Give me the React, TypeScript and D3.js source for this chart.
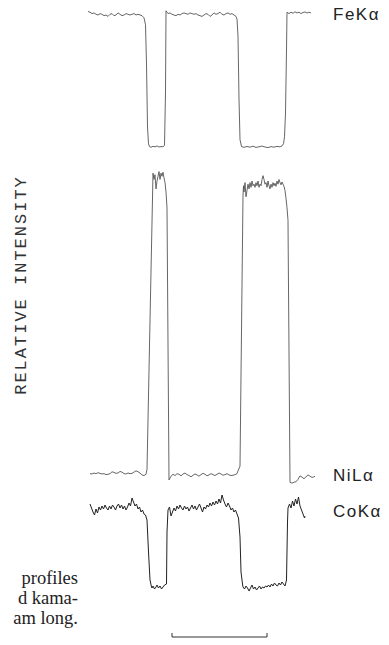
import React, { useEffect, useRef } from "react";
import * as d3 from "d3";

type Pt = [number, number];

// scan position (arbitrary units) vs relative intensity (0-100)
const feKa: Pt[] = [
  [0, 97.5], [2, 97], [4, 96], [6, 96.5], [8, 95.5], [10, 95], [12, 96], [14, 95.5], [16, 94.5], [18, 95],
  [20, 94], [22, 95.5], [24, 96], [26, 94.5], [28, 95], [30, 96.5], [32, 95.5], [34, 94.5], [36, 95], [38, 96],
  [40, 95.5], [42, 95], [44, 95.5], [46, 96], [48, 95], [50, 95.5], [52, 95], [54, 94.5], [56, 93], [57.5, 88],
  [58.5, 60], [59.5, 15], [60.5, 3], [61.5, 1],
  [63, 0.5], [65, 1.2], [67, 0.8], [69, 1.5], [71, 0.7], [73, 1], [75, 0.9], [76.5, 1.8], [77.5, 40], [78, 98],
  [80, 96], [82, 96.5], [84, 95.5], [86, 95], [88, 94.5], [90, 95.5], [92, 95], [94, 96], [96, 96.5], [98, 96],
  [100, 95.5], [102, 96.5], [104, 96], [106, 95.5], [108, 96], [110, 95], [112, 94.5], [114, 94], [116, 95], [118, 96],
  [120, 95.5], [122, 94], [124, 95], [126, 96.5], [128, 95.5], [130, 96], [132, 97], [134, 95.5], [136, 95], [138, 96],
  [140, 96.5], [142, 95.5], [144, 96], [146, 95], [148, 94], [149, 92], [150, 80], [151, 35], [152, 6], [153.5, 1],
  [156, 0.5], [159, 1.1], [162, 0.6], [165, 1.3], [168, 0.4], [171, 0.9], [174, 1.4], [177, 0.7], [180, 0.3], [183, 1],
  [186, 0.6], [189, 1.2], [192, 0.8], [194, 1.5], [195.5, 3], [196.5, 8], [197.5, 25], [198.5, 70], [199, 97],
  [201, 96], [203, 97], [205, 96.2], [207, 97.3], [209, 96.5], [211, 97], [213, 96], [215, 96.8], [217, 97.2], [219, 96.4],
  [221, 97], [223, 96.5],
];

const niLa: Pt[] = [
  [2, 3.6], [4, 3.5], [6, 3.8], [8, 3.6], [10, 3.9], [12, 3.7], [14, 3.5], [16, 3.6], [18, 3.3], [20, 3.4],
  [22, 3.6], [24, 4.2], [26, 4.0], [28, 3.7], [30, 3.8], [32, 4.3], [34, 4.1], [36, 3.6], [38, 3.5], [40, 3.8],
  [42, 3.6], [44, 3.7], [46, 4.1], [48, 4.5], [50, 4.2], [52, 3.8], [54, 3.2], [56, 3.0], [58, 3.4], [59, 5],
  [65, 99], [66, 97], [67, 98.5], [68, 94], [69, 96.5], [70, 98], [71, 99.5], [72, 97], [73, 99], [74, 98],
  [75, 99.3], [76, 97.5], [77, 96], [78, 93], [79, 88], [81, 1.6],
  [83, 2.8], [85, 3.4], [87, 3.0], [89, 3.6], [91, 3.4], [93, 2.9], [95, 3.5], [97, 3.8], [99, 3.3], [101, 3.0],
  [103, 2.6], [105, 3.1], [107, 3.5], [109, 3.2], [111, 2.8], [113, 3.3], [115, 3.7], [117, 3.4], [119, 2.9], [121, 3.2],
  [123, 3.6], [125, 3.3], [127, 3.0], [129, 3.4], [131, 3.8], [133, 3.5], [135, 3.1], [137, 3.3], [139, 3.6], [141, 3.2],
  [143, 3.0], [145, 3.1], [147, 3.3], [149, 3.6], [150, 4.5], [152, 6],
  [155, 92], [155.5, 95], [156, 93], [157, 96], [158, 91.5], [159, 93.5], [160, 95.5], [161, 94], [162, 96], [163, 94.5],
  [164, 96.5], [165, 95], [166, 95.5], [167, 94.5], [168, 96], [169, 95], [170, 96.5], [171, 94.5], [172, 95.5], [173, 95],
  [174, 97], [175, 98.2], [176, 97], [177, 95.5], [178, 96], [179, 94.5], [180, 96.5], [181, 95], [182, 94], [183, 95.5],
  [184, 94.5], [185, 96], [186, 95], [187, 95.8], [188, 94.8], [189, 96.5], [190, 95.5], [191, 97], [192, 96], [193, 95.3],
  [194, 96.2], [195, 95.5], [196, 94.8], [197, 93.5], [198, 91], [199, 88], [200, 84], [202, 0.8],
  [204, 0.6], [206, 0.9], [208, 1.0], [210, 1.8], [212, 2.9], [214, 2.5], [216, 2.0], [218, 2.6], [220, 3.2], [222, 2.8],
  [224, 2.4], [226, 2.6], [227, 2.8],
];

const coKa: Pt[] = [
  [2, 88], [3.5, 84], [5, 80], [6.5, 77], [8, 83], [9.5, 79], [11, 85], [12.5, 82], [14, 86], [15.5, 83],
  [17, 87], [18.5, 84], [20, 82], [21.5, 86], [23, 83], [24.5, 87], [26, 85], [27.5, 82], [29, 86], [30.5, 88],
  [32, 84], [33.5, 87], [35, 83], [36.5, 86], [38, 82], [39.5, 85], [41, 89], [42.5, 86], [44, 94], [45.5, 90],
  [47, 86], [48.5, 88], [50, 83], [51.5, 85], [53, 80], [54.5, 82], [56, 78], [57.5, 77], [59, 72], [60.5, 40],
  [62, 12], [63.5, 5],
  [64, 4], [65, 6], [66.5, 3], [68, 5], [69, 7], [70.5, 4], [72, 6], [73.5, 3], [75, 5], [76.5, 7],
  [78.5, 8], [79, 60], [80, 82],
  [81.5, 85], [83, 76], [84.5, 80], [86, 84], [87.5, 81], [89, 86], [90.5, 83], [92, 87], [93.5, 84], [95, 82],
  [96.5, 86], [98, 83], [99.5, 85], [101, 81], [102.5, 84], [104, 87], [105.5, 83], [107, 86], [108.5, 82], [110, 85],
  [111.5, 88], [113, 84], [114.5, 80], [116, 85], [117.5, 83], [119, 87], [120.5, 85], [122, 89], [123.5, 86], [125, 90],
  [126.5, 87], [128, 91], [129.5, 88], [131, 93], [132.5, 89], [134, 97], [135.5, 92], [137, 88], [138.5, 85], [140, 89],
  [141.5, 86], [143, 82], [144.5, 84], [146, 80], [147.5, 82], [149, 78], [150.5, 74], [152, 55], [153, 20], [154.5, 8],
  [155, 5], [156.5, 3], [158, 6], [159.5, 4], [161, 1], [162.5, 4], [164, 7], [165.5, 3], [167, 5], [168.5, 2],
  [170, 4], [171.5, 6], [173, 3], [174.5, 5], [176, 4], [177.5, 6], [179, 5], [180.5, 7], [182, 5], [183.5, 8],
  [185, 6], [186.5, 9], [188, 7], [189.5, 6], [191, 9], [192.5, 7], [194, 10], [195.5, 8], [197, 6], [198.5, 12],
  [199.5, 70], [200, 84],
  [201.5, 88], [203, 84], [204.5, 91], [206, 86], [207.5, 93], [209, 88], [210.5, 95], [212, 86], [213.5, 82], [215, 78],
  [216.5, 74], [217, 76],
];

const traceLabels = ["FeKα", "NiLα", "CoKα"];
const axisTitle = "RELATIVE INTENSITY";
const scaleBar = [84, 179];
const captionLines = ["profiles", "d kama-", "am long."];

const W = 389;
const H = 645;

const App: React.FC = () => {
  const svgRef = useRef<SVGSVGElement>(null);

  useEffect(() => {
    if (!svgRef.current) return;
    const svg = d3.select(svgRef.current);
    svg.selectAll("*").remove();

    const x = d3.scaleLinear().domain([0, 230]).range([88, 318]);

    // each trace sits in its own band
    const traces = [
      { data: feKa, y: d3.scaleLinear().domain([0, 100]).range([148, 8]), stroke: "#555", sw: 0.9, labelY: 20 },
      { data: niLa, y: d3.scaleLinear().domain([0, 100]).range([485, 170]), stroke: "#555", sw: 0.9, labelY: 481 },
      { data: coKa, y: d3.scaleLinear().domain([0, 100]).range([592, 492]), stroke: "#222", sw: 1.0, labelY: 517 },
    ];

    traces.forEach((t, i) => {
      const line = d3
        .line<Pt>()
        .x((d) => x(d[0]))
        .y((d) => t.y(d[1]));
      svg
        .append("path")
        .datum(t.data)
        .attr("d", line)
        .attr("fill", "none")
        .attr("stroke", t.stroke)
        .attr("stroke-width", t.sw)
        .attr("stroke-linejoin", "round");

      svg
        .append("text")
        .attr("x", 333)
        .attr("y", t.labelY)
        .attr("font-family", "'Liberation Sans', Arial, sans-serif")
        .attr("font-size", 17)
        .attr("letter-spacing", 1.5)
        .attr("fill", "#222")
        .text(traceLabels[i]);
    });

    // y axis title
    svg
      .append("text")
      .attr("transform", "translate(26,285) rotate(-90)")
      .attr("text-anchor", "middle")
      .attr("font-family", "'Liberation Mono', 'DejaVu Sans Mono', monospace")
      .attr("font-size", 17)
      .attr("letter-spacing", 2)
      .attr("fill", "#333")
      .text(axisTitle);

    // scale bar
    const barY = 637;
    svg
      .append("path")
      .attr(
        "d",
        `M${x(scaleBar[0])},${barY - 4}V${barY}H${x(scaleBar[1])}V${barY - 4}`
      )
      .attr("fill", "none")
      .attr("stroke", "#333")
      .attr("stroke-width", 1);

    // clipped caption fragment at the left
    svg
      .selectAll("text.caption")
      .data(captionLines)
      .enter()
      .append("text")
      .attr("class", "caption")
      .attr("x", 78)
      .attr("y", (_, i) => 584 + i * 20)
      .attr("text-anchor", "end")
      .attr("font-family", "'Liberation Serif', 'Times New Roman', serif")
      .attr("font-size", 18.5)
      .attr("fill", "#222")
      .text((d) => d);
  }, []);

  return (
    <div>
      <style>{"body{margin:0}"}</style>
      <svg ref={svgRef} width={W} height={H} style={{ display: "block", background: "#fff" }} />
    </div>
  );
};

export default App;
